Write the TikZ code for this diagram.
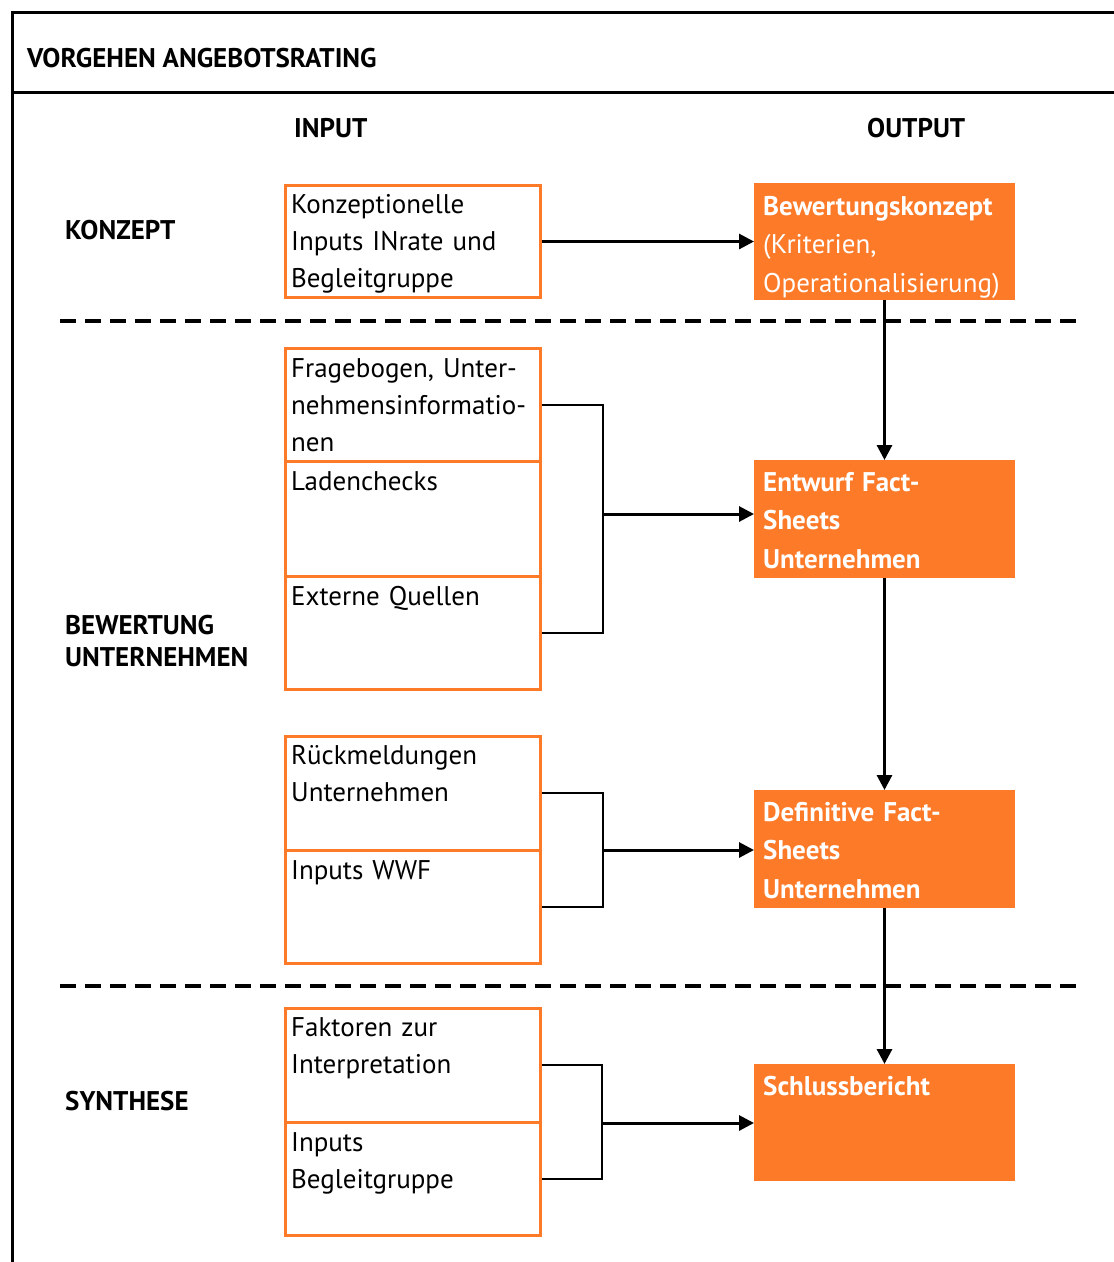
\documentclass[tikz,border=0pt]{standalone}
\usepackage{fontspec}
\setmainfont{PT Sans}
\usetikzlibrary{arrows.meta}
\definecolor{org}{RGB}{252,122,40}
\begin{document}
\begin{tikzpicture}[x=1pt,y=-1pt,
 inbox/.style={draw=org, line width=3pt, minimum width=255pt, inner sep=0pt},
 outbox/.style={fill=org, draw=none, minimum width=261pt, inner sep=0pt, outer sep=0pt},
 txt/.style={anchor=base west, text width=250pt, align=left, inner sep=0pt, font=\fontsize{27}{37}\selectfont},
 wtxt/.style={anchor=base west, text width=255pt, align=left, inner sep=0pt, text=white, font=\fontsize{27}{38.5}\selectfont},
 head/.style={anchor=base west, inner sep=0pt, align=left, font=\fontsize{27}{32}\selectfont\bfseries},
 frame/.style={line width=3pt},
 dashline/.style={line width=4pt, dash pattern=on 16pt off 9pt},
 arr/.style={line width=3pt, -{Triangle[length=15pt,width=15pt]}},
 brk/.style={line width=2pt}
]
\useasboundingbox (0,0) rectangle (1114,1262);
% frame
\draw[frame] (1114,12) -- (12,12) -- (12,1262);
\draw[frame] (12,92) -- (1114,92);
\node[head] (title) at (27,67) {VORGEHEN ANGEBOTSRATING};
\node[head] (hin) at (294,137) {INPUT};
\node[head] (hout) at (867,137) {OUTPUT};
\node[head] (sk) at (65,239) {KONZEPT};
\node[head] (sb) at (65,666) {BEWERTUNG\\UNTERNEHMEN};
\node[head] (ss) at (65,1110) {SYNTHESE};
% dashed separators
\draw[dashline] (60,321) -- (1078,321);
\draw[dashline] (60,986) -- (1078,986);
% input boxes
\node[inbox, minimum height=112pt] (b1) at (413,241.5) {};
\node[inbox, minimum height=112.5pt] (b2) at (413,404.75) {};
\node[inbox, minimum height=115pt] (b3) at (413,518.5) {};
\node[inbox, minimum height=113.5pt] (b4) at (413,632.75) {};
\node[inbox, minimum height=113.5pt] (b5) at (413,793.25) {};
\node[inbox, minimum height=113.5pt] (b6) at (413,906.75) {};
\node[inbox, minimum height=113.5pt] (b7) at (413,1065.25) {};
\node[inbox, minimum height=113.5pt] (b8) at (413,1178.75) {};
\node[txt] (t1) at (291,213) {Konzeptionelle\\Inputs INrate und\\Begleitgruppe};
\node[txt] (t2) at (291,377) {Fragebogen, Unter-\\nehmensinformatio-\\nen};
\node[txt] (t3) at (291,490) {Ladenchecks};
\node[txt] (t4) at (291,605) {Externe Quellen};
\node[txt] (t5) at (291,764) {Rückmeldungen\\Unternehmen};
\node[txt] (t6) at (291,879) {Inputs WWF};
\node[txt] (t7) at (291,1036) {Faktoren zur\\Interpretation};
\node[txt] (t8) at (291,1151) {Inputs\\Begleitgruppe};
% output boxes
\node[outbox, minimum height=117pt] (o1) at (884.5,241.5) {};
\node[outbox, minimum height=118pt] (o2) at (884.5,519) {};
\node[outbox, minimum height=118pt] (o3) at (884.5,849) {};
\node[outbox, minimum height=117pt] (o4) at (884.5,1122.5) {};
\node[wtxt] (u1) at (763,215) {\textbf{Bewertungskonzept}\\(Kriterien,\\Operationalisierung)};
\node[wtxt] (u2) at (763,491) {\textbf{Entwurf Fact-}\\\textbf{Sheets}\\\textbf{Unternehmen}};
\node[wtxt] (u3) at (763,821) {\textbf{Definitive Fact-}\\\textbf{Sheets}\\\textbf{Unternehmen}};
\node[wtxt] (u4) at (763,1095) {\textbf{Schlussbericht}};
% connectors
\coordinate (j1) at (603,514);
\coordinate (j2) at (603,850);
\coordinate (j3) at (602,1123);
\draw[arr] (b1.east) -- (o1.west);
\draw[brk] (b2.east) -| (j1) |- (b4.east);
\draw[arr] (j1) -- (o2.west |- j1);
\draw[brk] (b5.east) -| (j2) |- (b6.east);
\draw[arr] (j2) -- (o3.west |- j2);
\draw[brk] (b7.east) -| (j3) |- (b8.east);
\draw[arr] (j3) -- (o4.west |- j3);
\draw[arr] (o1.south) -- (o2.north);
\draw[arr] (o2.south) -- (o3.north);
\draw[arr] (o3.south) -- (o4.north);
\end{tikzpicture}
\end{document}
